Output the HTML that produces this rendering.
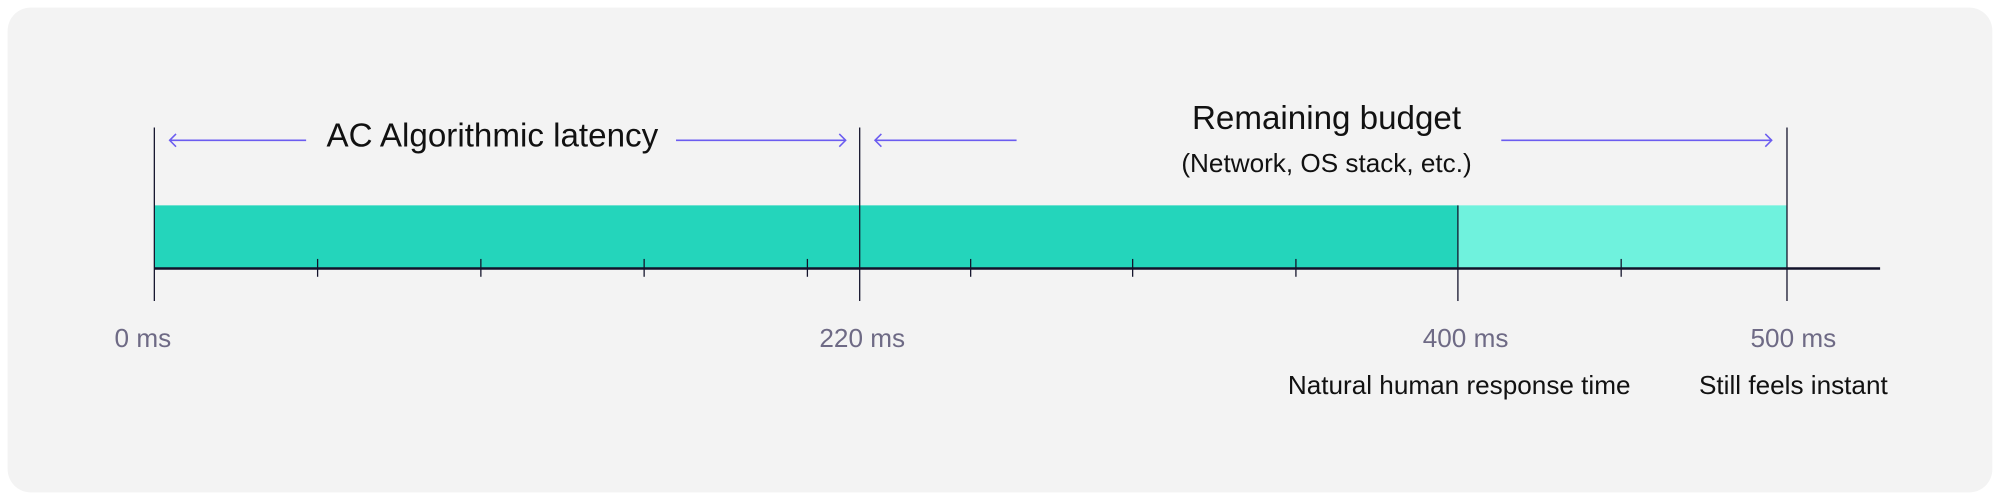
<!DOCTYPE html>
<html><head><meta charset="utf-8"><style>
html,body{margin:0;padding:0;background:#fff;width:2000px;height:500px;overflow:hidden}
svg{display:block}
text{font-family:"Liberation Sans",sans-serif}
</style></head><body>
<svg width="2000" height="500" viewBox="0 0 1568 392" xmlns="http://www.w3.org/2000/svg">
<rect x="6" y="6" width="1556" height="380" rx="18" fill="#f3f3f3"/>
<rect x="121" y="161" width="1022" height="49" fill="#24d5bb"/>
<rect x="1143" y="161" width="258" height="49" fill="#6ff2dd"/>
<g stroke="#12122a" stroke-width="1">
<line x1="121" y1="100" x2="121" y2="236"/>
<line x1="674" y1="100" x2="674" y2="236"/>
<line x1="1143" y1="161" x2="1143" y2="236"/>
<line x1="1401" y1="100" x2="1401" y2="236"/>
<line x1="249" y1="203" x2="249" y2="217"/>
<line x1="377" y1="203" x2="377" y2="217"/>
<line x1="505" y1="203" x2="505" y2="217"/>
<line x1="633" y1="203" x2="633" y2="217"/>
<line x1="761" y1="203" x2="761" y2="217"/>
<line x1="888" y1="203" x2="888" y2="217"/>
<line x1="1016" y1="203" x2="1016" y2="217"/>
<line x1="1271" y1="203" x2="1271" y2="217"/>
</g>
<line x1="121" y1="210.5" x2="1474" y2="210.5" stroke="#12122a" stroke-width="2"/>
<g stroke="#6b5cf0" stroke-width="1.2" fill="none">
<line x1="133" y1="110" x2="240" y2="110"/><polyline points="138,105 133,110 138,115"/>
<line x1="530" y1="110" x2="663" y2="110"/><polyline points="658,105 663,110 658,115"/>
<line x1="686" y1="110" x2="797" y2="110"/><polyline points="691,105 686,110 691,115"/>
<line x1="1177" y1="110" x2="1389" y2="110"/><polyline points="1384,105 1389,110 1384,115"/>
</g>
<g fill="#111" text-anchor="middle">
<text x="386" y="115" font-size="26">AC Algorithmic latency</text>
<text x="1040" y="101" font-size="26">Remaining budget</text>
<text x="1040" y="135" font-size="20.5">(Network, OS stack, etc.)</text>
<text x="1144" y="309" font-size="20.5">Natural human response time</text>
<text x="1406" y="309" font-size="20.5">Still feels instant</text>
</g>
<g fill="#6e6a85" text-anchor="middle" font-size="20.5">
<text x="112" y="272">0 ms</text>
<text x="676" y="272">220 ms</text>
<text x="1149" y="272">400 ms</text>
<text x="1406" y="272">500 ms</text>
</g>
</svg>
</body></html>
